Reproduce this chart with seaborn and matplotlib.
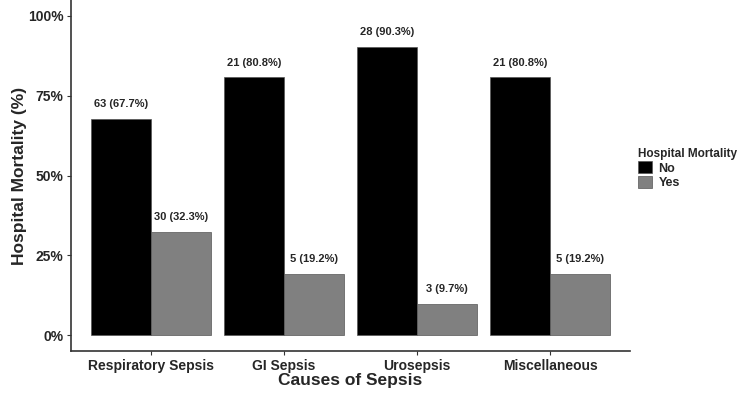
import pandas as pd
import seaborn as sns
import matplotlib.pyplot as plt
from matplotlib.ticker import PercentFormatter

causes = ["Respiratory Sepsis", "GI Sepsis", "Urosepsis", "Miscellaneous"]
n_no = [63, 21, 28, 21]
n_yes = [30, 5, 3, 5]
pct_no = [67.7, 80.8, 90.3, 80.8]
pct_yes = [32.3, 19.2, 9.7, 19.2]

df = pd.DataFrame({
    "cause": causes * 2,
    "mortality": ["No"] * 4 + ["Yes"] * 4,
    "pct": pct_no + pct_yes,
    "n": n_no + n_yes,
})

sns.set_style("ticks")
plt.rcParams['font.family'] = ['Liberation Sans', 'DejaVu Sans']
plt.rcParams['font.weight'] = 'bold'

fig = plt.figure(figsize=(7.5, 3.94), dpi=100)
ax = fig.add_axes([0.095, 0.109, 0.745, 0.891])

sns.barplot(data=df, x="cause", y="pct", hue="mortality", order=causes,
            hue_order=["No", "Yes"], palette={"No": "black", "Yes": "#808080"},
            width=0.9, gap=0, edgecolor="#555555", linewidth=0.5, ax=ax)

# labels above bars
for cont, lvl in zip(ax.containers, ["No", "Yes"]):
    sub = df[df["mortality"] == lvl].set_index("cause").loc[causes]
    labels = [f"{n} ({p}%)" for n, p in zip(sub["n"], sub["pct"])]
    ax.bar_label(cont, labels=labels, padding=7, fontsize=8, fontweight="bold")

ax.set_xlim(-0.6, 3.6)
ax.set_ylim(-5, 105)
ax.set_yticks([0, 25, 50, 75, 100])
ax.yaxis.set_major_formatter(PercentFormatter(decimals=0))
ax.tick_params(axis="both", labelsize=10, length=3, color="#333333", pad=2.5)
for lab in ax.get_xticklabels() + ax.get_yticklabels():
    lab.set_fontweight("bold")
ax.set_xlabel("Causes of Sepsis", fontsize=12.5, fontweight="bold", labelpad=0)
ax.set_ylabel("Hospital Mortality (%)", fontsize=12.5, fontweight="bold", labelpad=1)
sns.despine(ax=ax)
for s in ["left", "bottom"]:
    ax.spines[s].set_color("#333333")
    ax.spines[s].set_linewidth(1.2)

leg = ax.legend(title="Hospital Mortality", loc="center left",
                bbox_to_anchor=(0.995, 0.52), frameon=False, fontsize=9,
                title_fontproperties={"weight": "bold", "size": 8.5},
                handlelength=1.1, handleheight=1.1, handletextpad=0.5,
                labelspacing=0.1, alignment="left")

fig.savefig("out.png", dpi=100)
